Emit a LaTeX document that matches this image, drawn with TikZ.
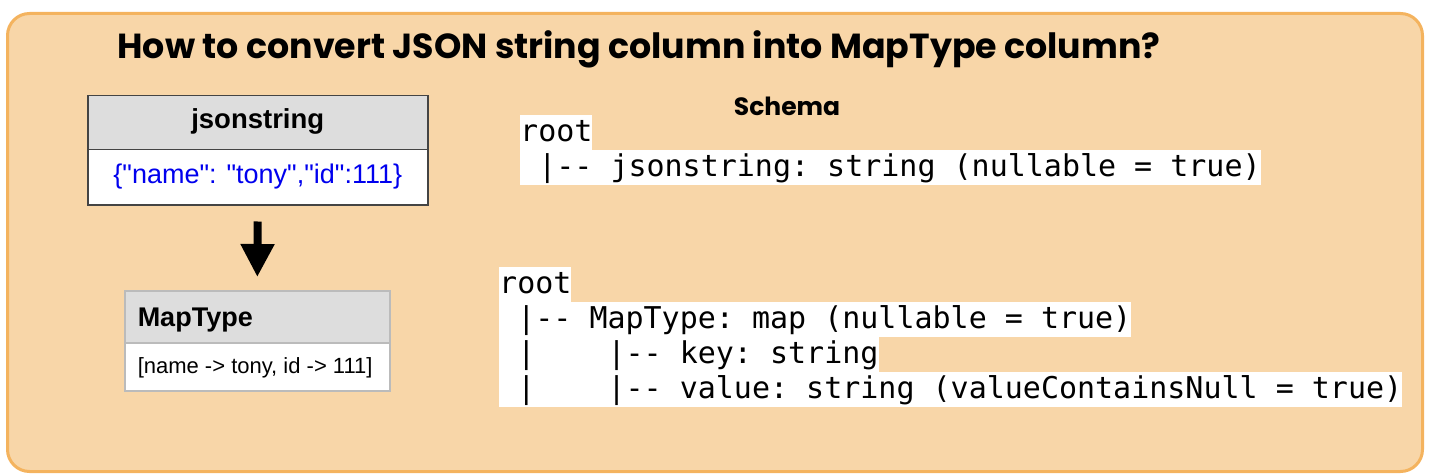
\documentclass[tikz,border=0pt]{standalone}
\usepackage{fontspec}
\usetikzlibrary{arrows.meta}
\newfontfamily\lsans{Liberation Sans}
\newfontfamily\dmono{DejaVu Sans Mono}[WordSpace={1,0,0},PunctuationSpace=WordSpace]
\newfontfamily\ttlfont{Poppins}
\definecolor{framefill}{HTML}{F8D6A8}
\definecolor{frameline}{HTML}{F4B35E}
\definecolor{headfill}{HTML}{DDDDDD}
\definecolor{jsline}{HTML}{444444}
\definecolor{mtline}{HTML}{BBBBBB}
\definecolor{jsblue}{HTML}{0000EE}
\tikzset{
  frame/.style={draw=frameline, fill=framefill, line width=3pt, rounded corners=22pt, inner sep=0pt, anchor=north west},
  tabcell/.style={line width=1.5pt, inner sep=0pt, anchor=north west},
  jshead/.style={tabcell, draw=jsline, fill=headfill, minimum width=340pt, minimum height=54pt, text height=20pt, text depth=8pt, font=\lsans\bfseries\fontsize{27.5}{32}\selectfont},
  jsbody/.style={tabcell, draw=jsline, fill=white, minimum width=340pt, minimum height=55pt, text height=20pt, text depth=7pt, text=jsblue, font=\lsans\fontsize{27}{32}\selectfont},
  mthead/.style={tabcell, draw=mtline, fill=headfill, minimum width=265pt, minimum height=52pt, inner xsep=13pt, text height=24pt, text depth=4pt, font=\lsans\bfseries\fontsize{27}{32}\selectfont},
  mtbody/.style={tabcell, draw=mtline, fill=white, minimum width=265pt, minimum height=48pt, inner xsep=13pt, text height=18pt, text depth=4pt, font=\lsans\fontsize{22}{26}\selectfont},
  codeline/.style={fill=white, inner sep=0pt, anchor=north west, text height=26pt, text depth=9pt, font=\dmono\frenchspacing\fontsize{30}{35}\selectfont},
  titletext/.style={anchor=base, inner sep=0pt, font=\ttlfont\bfseries\fontsize{34.8}{40}\selectfont},
  schematext/.style={anchor=base, inner sep=0pt, font=\ttlfont\bfseries\fontsize{25}{29}\selectfont},
  bigarrow/.style={draw=black, line width=8pt, shorten <=16pt, shorten >=13pt, -{Triangle[width=32pt,length=33pt]}}
}
\begin{document}
\begin{tikzpicture}[x=1pt,y=-1pt]
\useasboundingbox (0,0) rectangle (1430,476);
\node[frame, minimum width=1415pt, minimum height=458pt] (frame) at (6,12) {};
\node[titletext] (title) at (639,59) {How to convert JSON string column into MapType column?};
% jsonstring table
\node[jshead] (jsh) at (87,95) {jsonstring};
\node[jsbody] (jsb) at (87,149) {\{"name": "tony","id":111\}};
% MapType table
\node[mthead] (mth) at (124,290) {\makebox[239pt][l]{MapType}};
\node[mtbody] (mtb) at (124,342) {\makebox[239pt][l]{[name -> tony, id -> 111]}};
\draw[bigarrow] (jsb.south) -- (mth.north);
% schema 1
\node[schematext] (schema) at (787,116) {Schema};
\node[codeline] (s1a) at (520,115) {root};
\node[codeline] (s1b) at (520,150) {\hphantom{x}|-- jsonstring: string (nullable = true)};
% schema 2
\node[codeline] (s2a) at (499,267) {root};
\node[codeline] (s2b) at (499,302) {\hphantom{x}|-- MapType: map (nullable = true)};
\node[codeline] (s2c) at (499,337) {\hphantom{x}|\hphantom{xxxx}|-- key: string};
\node[codeline] (s2d) at (499,372) {\hphantom{x}|\hphantom{xxxx}|-- value: string (valueContainsNull = true)};
\end{tikzpicture}
\end{document}
